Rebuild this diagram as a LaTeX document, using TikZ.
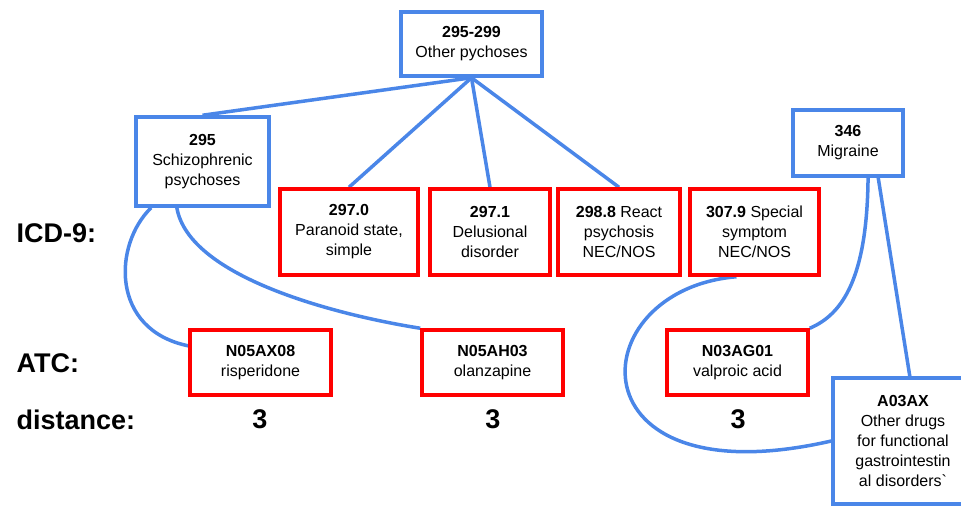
\documentclass[tikz,border=0pt]{standalone}
\usepackage{fontspec}
\setmainfont{Liberation Sans}
\usetikzlibrary{backgrounds}
\definecolor{gblue}{RGB}{74,134,232}
\definecolor{gred}{RGB}{255,0,0}
\begin{document}
\begin{tikzpicture}[x=1pt,y=-1pt,
    box/.style={draw,line width=3.5pt,align=center,inner sep=2pt,font=\fontsize{16}{20}\selectfont},
    bbox/.style={box,draw=gblue},
    rbox/.style={box,draw=gred,minimum height=86},
    drug/.style={rbox,minimum width=141,minimum height=65},
    lab/.style={font=\fontsize{27}{32}\selectfont\bfseries},
    link/.style={draw=gblue,line width=3.5pt}]
    \useasboundingbox (0,0) rectangle (961,508);
    \node[bbox,minimum width=141,minimum height=64] (top) at (471.5,44) {\textbf{295-299}\\Other pychoses};
    \node[bbox,minimum width=133,minimum height=89] (s295) at (202.5,161.5) {\textbf{295}\\Schizophrenic\\psychoses};
    \node[bbox,minimum width=110,minimum height=66] (m346) at (848,143) {\textbf{346}\\Migraine};
    \node[rbox,minimum width=138] (p2970) at (349,232) {\textbf{297.0}\\Paranoid state,\\simple};
    \node[rbox,minimum width=120] (p2971) at (490,232) {\textbf{297.1}\\Delusional\\disorder};
    \node[rbox,minimum width=122] (p2988) at (619,232) {\textbf{298.8} React\\psychosis\\NEC/NOS};
    \node[rbox,minimum width=129] (p3079) at (754.5,232) {\textbf{307.9} Special\\symptom\\NEC/NOS};
    \node[drug] (risp) at (260.5,362.5) {\textbf{N05AX08}\\risperidone};
    \node[drug] (olan) at (492.5,362.5) {\textbf{N05AH03}\\olanzapine};
    \node[drug] (valp) at (737.5,362.5) {\textbf{N03AG01}\\valproic acid};
    \node[bbox,minimum width=140,minimum height=126] (a03ax) at (903,441) {\textbf{A03AX}\\Other drugs\\for functional\\gastrointestin\\al disorders\textasciigrave};
    \node[lab,anchor=west] (icd) at (13,233) {ICD-9:};
    \node[lab,anchor=west] (atc) at (13,363) {ATC:};
    \node[lab,anchor=west] (dist) at (13,420) {distance:};
    \foreach \n/\x in {d1/260,d2/493,d3/738}
    \node[lab] (\n) at (\x,419) {3};
    \begin{scope}[on background layer]
    \foreach \c in {s295,p2970,p2971,p2988}
    \draw[link] (top.south)--(\c.north);
    \draw[link] (s295.222) .. controls +(-38,37) and +(-78,-16) .. (risp.167);
    \draw[link] (s295.241) .. controls +(12,70) and +(-82,-13) .. (olan.north west);
    \draw[link] (p3079.248) .. controls +(-157,13) and +(-262,60) .. (a03ax.west);
    \draw[link] (m346.-60) .. controls +(-1,100) and +(33,-14) .. (valp.north east);
    \draw[link] (m346.-49)--(a03ax.84);
    \end{scope}
\end{tikzpicture}
\end{document}
